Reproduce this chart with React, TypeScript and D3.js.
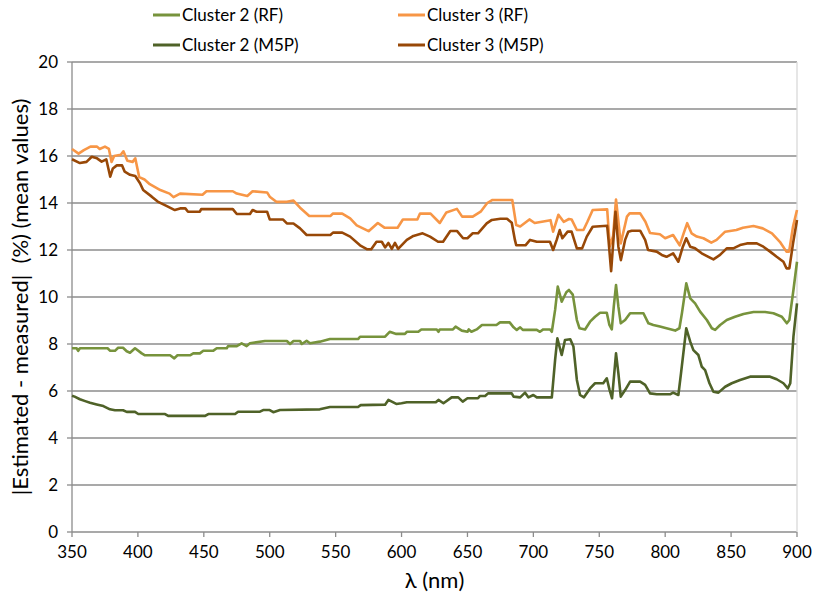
import React from 'react'
import * as d3 from 'd3'

const W = 814
const H = 597
const M = { left: 72, right: 17, top: 62, bottom: 65 }

const xTicks = [350, 400, 450, 500, 550, 600, 650, 700, 750, 800, 850, 900]
const yTicks = [0, 2, 4, 6, 8, 10, 12, 14, 16, 18, 20]

// [wavelength nm, |estimated - measured| %]
const cluster3RF: [number, number][] = [
  [350, 16.3], [355, 16.1], [359, 16.25], [364, 16.4], [369, 16.4], [371, 16.3], [375, 16.4], [378, 16.3],
  [380, 15.75], [382, 16.0], [387, 16.05], [389, 16.2], [392, 15.8], [396, 15.75], [398, 15.9],
  [401, 15.1], [405, 15.0], [409, 14.8], [417, 14.55], [424, 14.4], [427, 14.25], [432, 14.4],
  [449, 14.35], [452, 14.5], [472, 14.5], [475, 14.4], [483, 14.3], [487, 14.5], [498, 14.45],
  [500, 14.27], [505, 14.05], [513, 14.05], [518, 14.1], [523, 13.8], [530, 13.45], [546, 13.45],
  [548, 13.55], [555, 13.55], [561, 13.35], [566, 13.05], [575, 12.8], [582, 13.15], [587, 12.95],
  [597, 12.95], [601, 13.3], [612, 13.3], [614, 13.55], [622, 13.55], [629, 13.15], [634, 13.6],
  [642, 13.75], [646, 13.42], [654, 13.42], [660, 13.63], [665, 14.0], [669, 14.13], [684, 14.13],
  [687, 13.06], [690, 13.0], [697, 13.3], [701, 13.15], [713, 13.27], [715, 12.78], [719, 13.5],
  [723, 13.2], [727, 13.32], [729, 13.3], [733, 12.85], [738, 12.85], [741, 13.2], [745, 13.7],
  [756, 13.73], [758, 12.15], [760.5, 12.6], [762.7, 14.15], [766.3, 12.28], [771, 13.42], [773, 13.56],
  [781, 13.56], [785, 13.2], [788.5, 12.72], [796, 12.67], [800, 12.5], [806, 12.64], [811, 12.2],
  [814, 12.71], [816.7, 13.14], [820, 12.71], [824, 12.57], [829, 12.5], [835, 12.31], [839, 12.43],
  [845.5, 12.78], [854, 12.85], [859, 12.95], [867, 13.02], [874, 12.92], [881, 12.71], [887, 12.35],
  [892, 11.93], [894, 11.93], [897, 13.0], [900, 13.7]
]

const cluster3M5P: [number, number][] = [
  [350, 15.86], [356, 15.7], [361, 15.75], [365, 15.97], [369, 15.9], [372.5, 15.76], [376, 15.86],
  [379, 15.12], [381, 15.47], [384, 15.6], [388, 15.6], [390, 15.33], [394, 15.2], [398, 15.15],
  [401.6, 14.84], [404, 14.55], [410.5, 14.27], [415, 14.06], [422, 13.87], [428, 13.7], [432, 13.77],
  [436, 13.77], [438, 13.63], [447, 13.63], [448, 13.74], [472, 13.74], [475, 13.53], [485, 13.53],
  [487, 13.7], [490, 13.63], [498, 13.63], [500, 13.3], [510, 13.3], [513, 13.13], [518, 13.13],
  [523, 12.92], [528, 12.64], [546, 12.64], [548, 12.74], [555, 12.74], [561, 12.57], [568.5, 12.2],
  [574, 12.03], [577, 12.03], [581, 12.35], [585, 12.35], [587.5, 12.11], [590, 12.3], [592.6, 12.05],
  [595, 12.3], [597.4, 12.05], [604, 12.43], [609, 12.6], [616, 12.71], [621.6, 12.57], [627.7, 12.35],
  [631.5, 12.35], [637, 12.81], [642, 12.81], [646.7, 12.5], [650, 12.5], [654, 12.71], [658, 12.71],
  [664.6, 13.13], [668.5, 13.28], [675, 13.33], [680, 13.33], [683.6, 13.16], [686, 12.43], [687, 12.2],
  [694, 12.2], [697.5, 12.43], [702.6, 12.35], [712.6, 12.35], [715, 12.0], [717.7, 12.43], [720, 12.85],
  [722, 12.5], [726, 12.78], [729, 12.78], [733, 12.07], [737, 12.07], [740.5, 12.57], [745, 12.99],
  [756, 13.03], [757, 12.43], [759, 11.1], [762.3, 13.63], [764.5, 12.14], [766.4, 11.57], [769.6, 12.43],
  [772, 12.78], [774.6, 12.82], [781, 12.82], [784.8, 12.43], [787, 12.0], [793.6, 11.93], [797.4, 11.79],
  [801, 11.71], [806, 11.86], [810, 11.5], [813.4, 12.14], [816, 12.5], [819, 12.14], [822.7, 12.07],
  [827.7, 11.86], [832.8, 11.71], [836.6, 11.6], [841.6, 11.79], [846.7, 12.07], [851.7, 12.07],
  [856.8, 12.21], [862, 12.28], [869.5, 12.28], [874.5, 12.14], [879.6, 11.93], [884.6, 11.71],
  [889.7, 11.5], [892, 11.22], [894.2, 11.22], [897, 12.28], [900, 13.28]
]

const cluster2RF: [number, number][] = [
  [350, 7.82], [353.5, 7.82], [354.7, 7.71], [356, 7.82], [377, 7.82], [379, 7.71], [382.6, 7.71],
  [385, 7.84], [388.7, 7.84], [391.5, 7.69], [394, 7.63], [397.8, 7.82], [402.9, 7.6], [405.4, 7.52],
  [424.4, 7.52], [427.6, 7.39], [430, 7.52], [439.5, 7.52], [442, 7.6], [447, 7.6], [449.6, 7.71],
  [457, 7.71], [459.8, 7.82], [467.4, 7.82], [468.4, 7.91], [475, 7.91], [478.7, 8.03], [482.5, 7.91],
  [485, 8.03], [496.4, 8.13], [513, 8.13], [515.4, 8.0], [518, 8.13], [523, 8.13], [524.3, 8.0],
  [528, 8.13], [530.6, 8.03], [538, 8.1], [545.7, 8.21], [567, 8.21], [568.5, 8.31], [587.5, 8.31],
  [591, 8.52], [596, 8.43], [602.6, 8.43], [604, 8.52], [612.7, 8.52], [615, 8.62], [626.7, 8.62],
  [628, 8.52], [629, 8.62], [639, 8.62], [641, 8.74], [645.7, 8.57], [650, 8.52], [651, 8.62],
  [653, 8.52], [657, 8.62], [661, 8.81], [672, 8.81], [674.7, 8.92], [682, 8.92], [685, 8.71],
  [687.4, 8.6], [690, 8.71], [692, 8.6], [702.6, 8.6], [705, 8.52], [707.5, 8.62], [712.7, 8.62],
  [714, 8.52], [716.5, 9.45], [718.5, 10.44], [721.5, 9.8], [725, 10.2], [727, 10.3], [729.9, 10.1],
  [733, 9.02], [735, 8.67], [739.2, 8.62], [743, 8.95], [746.8, 9.16], [750.6, 9.33], [755.7, 9.33],
  [757.7, 8.81], [759.5, 8.62], [761, 9.59], [762.7, 10.51], [764.5, 9.59], [766.3, 8.88], [769.6, 9.02],
  [773.4, 9.31], [783.5, 9.31], [787.3, 8.88], [791, 8.81], [796, 8.74], [801, 8.67], [807.6, 8.57],
  [810.8, 8.67], [812.7, 9.31], [816, 10.58], [819, 9.94], [822.7, 9.73], [826.5, 9.38], [831.6, 9.02],
  [835.4, 8.67], [837.9, 8.6], [841.7, 8.81], [846.7, 9.02], [853, 9.16], [859.4, 9.28], [867, 9.36],
  [875.8, 9.36], [882.1, 9.31], [888.5, 9.16], [892.3, 8.88], [894.2, 9.02], [897.3, 10.3], [900, 11.5]
]

const cluster2M5P: [number, number][] = [
  [350, 5.8], [352, 5.76], [356, 5.65], [360, 5.57], [363.7, 5.5], [368.7, 5.43], [373.8, 5.36],
  [378.8, 5.22], [382.6, 5.18], [388.7, 5.18], [391.5, 5.11], [397.8, 5.11], [400.3, 5.02], [420.6, 5.02],
  [423, 4.94], [451, 4.94], [453.4, 5.02], [473.7, 5.02], [476, 5.12], [492.6, 5.12], [495, 5.19],
  [500, 5.19], [502.7, 5.1], [507.8, 5.19], [538, 5.22], [545.7, 5.32], [567, 5.32], [569, 5.4],
  [587.5, 5.42], [590, 5.62], [596, 5.45], [600, 5.48], [604, 5.52], [626, 5.52], [628, 5.62],
  [631.8, 5.48], [638, 5.73], [643, 5.73], [646.4, 5.55], [650, 5.69], [658, 5.69], [659.5, 5.79],
  [663.4, 5.79], [665.6, 5.9], [683.6, 5.9], [685, 5.76], [690, 5.73], [693.7, 5.93], [696.2, 5.73],
  [700, 5.83], [702.6, 5.73], [714, 5.73], [716.5, 7.32], [718.2, 8.24], [721.5, 7.53], [724, 8.17],
  [728, 8.2], [730.4, 7.89], [733, 6.47], [735.4, 5.83], [738.4, 5.73], [743, 6.11], [746.8, 6.33],
  [753, 6.33], [755.7, 6.54], [757.7, 6.07], [759.7, 5.69], [762.7, 7.6], [764.5, 6.75], [766.3, 5.76],
  [769.6, 6.04], [773.4, 6.4], [781, 6.4], [784.8, 6.26], [788.5, 5.9], [793.6, 5.86], [803.7, 5.86],
  [806, 5.93], [810, 5.83], [812, 6.75], [816, 8.67], [819, 8.1], [821.4, 7.74], [825.2, 7.53],
  [827.8, 7.03], [830.3, 6.89], [833.6, 6.33], [836.6, 5.97], [840.4, 5.93], [845.5, 6.18], [850.5, 6.33],
  [856.8, 6.47], [864.4, 6.61], [879.6, 6.61], [884.6, 6.5], [889.7, 6.33], [893, 6.11], [894.9, 6.33],
  [897.3, 8.31], [900, 9.73]
]

const series = [
  { name: 'Cluster 2 (RF)', data: cluster2RF, color: '#77933C' },
  { name: 'Cluster 2 (M5P)', data: cluster2M5P, color: '#4F6228' },
  { name: 'Cluster 3 (RF)', data: cluster3RF, color: '#F79646' },
  { name: 'Cluster 3 (M5P)', data: cluster3M5P, color: '#984807' }
]

const FONT = 'Lato, "Open Sans", sans-serif'

export default function App() {
  const x = d3.scaleLinear().domain([350, 900]).range([M.left, W - M.right])
  const y = d3.scaleLinear().domain([0, 20]).range([H - M.bottom, M.top])
  const line = d3
    .line<[number, number]>()
    .x(d => x(d[0]))
    .y(d => y(d[1]))

  const legendPos = [
    { s: series[0], lx: 153, ly: 15 },
    { s: series[2], lx: 398, ly: 15 },
    { s: series[1], lx: 153, ly: 45 },
    { s: series[3], lx: 398, ly: 45 }
  ]

  return (
    <svg width={W} height={H} style={{ position: 'absolute', left: 0, top: 0, background: '#fff' }} fontFamily={FONT}>
      {/* grid */}
      {yTicks.map(t => (
        <line key={t} x1={x(350)} x2={x(900)} y1={y(t)} y2={y(t)} stroke="#8C8C8C" strokeWidth={1.3} />
      ))}
      <line x1={x(900)} x2={x(900)} y1={y(20)} y2={y(0)} stroke="#D9D9D9" strokeWidth={1.3} />
      {/* axes */}
      <line x1={x(350)} x2={x(350)} y1={y(20)} y2={y(0)} stroke="#8C8C8C" strokeWidth={1.3} />
      {yTicks.map(t => (
        <g key={'y' + t}>
          <line x1={x(350) - 5} x2={x(350)} y1={y(t)} y2={y(t)} stroke="#8C8C8C" strokeWidth={1.3} />
          <text x={x(350) - 14} y={y(t)} dy="0.35em" textAnchor="end" fontSize={17} fill="#000">{t}</text>
        </g>
      ))}
      {xTicks.map(t => (
        <g key={'x' + t}>
          <line x1={x(t)} x2={x(t)} y1={y(0)} y2={y(0) + 5} stroke="#8C8C8C" strokeWidth={1.3} />
          <text x={x(t)} y={y(0) + 20} dy="0.35em" textAnchor="middle" fontSize={17} fill="#000">{t}</text>
        </g>
      ))}
      {/* series */}
      {series.map(s => (
        <path key={s.name} d={line(s.data) || ''} fill="none" stroke={s.color} strokeWidth={2.6} strokeLinejoin="round" />
      ))}
      {/* axis titles */}
      <text x={(x(350) + x(900)) / 2} y={580} dy="0.35em" textAnchor="middle" fontSize={22} fill="#000">λ (nm)</text>
      <text
        transform={`translate(20,${(y(0) + y(20)) / 2}) rotate(-90)`}
        dy="0.35em"
        textAnchor="middle"
        fontSize={22}
        fill="#000"
        style={{ whiteSpace: 'pre' }}
      >
        |Estimated - measured|  (%) (mean values)
      </text>
      {/* legend */}
      {legendPos.map(({ s, lx, ly }) => (
        <g key={'lg' + s.name}>
          <line x1={lx} x2={lx + 27} y1={ly} y2={ly} stroke={s.color} strokeWidth={3} />
          <text x={lx + 29} y={ly} dy="0.35em" fontSize={17} fill="#000">{s.name}</text>
        </g>
      ))}
    </svg>
  )
}
